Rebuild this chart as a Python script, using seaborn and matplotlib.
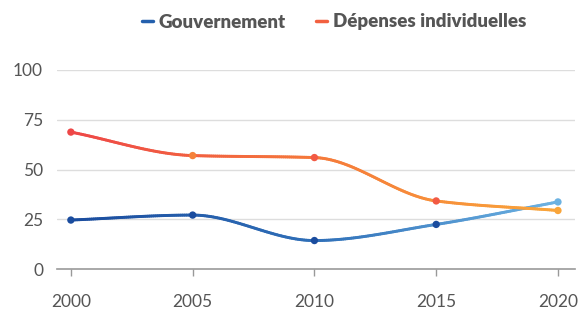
import numpy as np
import pandas as pd
import matplotlib
matplotlib.use("Agg")
import matplotlib.pyplot as plt
import seaborn as sns
from matplotlib.collections import LineCollection
from matplotlib.colors import LinearSegmentedColormap
from matplotlib.lines import Line2D

years = [2000, 2005, 2010, 2015, 2020]
gouvernement = [24.6, 27.1, 14.3, 22.4, 33.7]
depenses = [68.8, 57.0, 56.0, 34.2, 29.4]
series_names = ["Gouvernement", "Dépenses individuelles"]
y_ticks = [0, 25, 50, 75, 100]

blue_cmap = LinearSegmentedColormap.from_list("b", ["#1a4c9e", "#2f6fb8", "#6cb2e2"])
orange_cmap = LinearSegmentedColormap.from_list("o", ["#ee4747", "#f5793a", "#f9a53a"])
blue_pts = ["#1a4c9e", "#1a4c9e", "#1a4c9e", "#1a4c9e", "#6cb2e2"]
orange_pts = ["#ee4747", "#f5813a", "#f25a44", "#f25a44", "#f9a53a"]


def smooth(x, y, n=60):
    # monotone cubic (Fritsch-Carlson) for drawing the curve between points
    x = np.asarray(x, float)
    y = np.asarray(y, float)
    h = np.diff(x)
    d = np.diff(y) / h
    m = np.zeros_like(y)
    m[0], m[-1] = d[0], d[-1]
    for i in range(1, len(y) - 1):
        if d[i - 1] * d[i] <= 0:
            m[i] = 0
        else:
            w1 = 2 * h[i] + h[i - 1]
            w2 = h[i] + 2 * h[i - 1]
            m[i] = (w1 + w2) / (w1 / d[i - 1] + w2 / d[i])
    xs, ys = [], []
    for i in range(len(x) - 1):
        t = np.linspace(0, 1, n)
        h00 = 2 * t**3 - 3 * t**2 + 1
        h10 = t**3 - 2 * t**2 + t
        h01 = -2 * t**3 + 3 * t**2
        h11 = t**3 - t**2
        xs.append(x[i] + t * h[i])
        ys.append(h00 * y[i] + h10 * h[i] * m[i] + h01 * y[i + 1] + h11 * h[i] * m[i + 1])
    return np.concatenate(xs), np.concatenate(ys)


def gradient_line(ax, x, y, cmap):
    xs, ys = smooth(x, y)
    pts = np.column_stack([xs, ys]).reshape(-1, 1, 2)
    segs = np.concatenate([pts[:-1], pts[1:]], axis=1)
    lc = LineCollection(segs, cmap=cmap, linewidth=2.1, capstyle="round", zorder=3)
    lc.set_array((xs[:-1] - xs.min()) / (xs.max() - xs.min()))
    ax.add_collection(lc)


sns.set_theme(style="white")
plt.rcParams["font.family"] = ["Lato", "DejaVu Sans"]

fig = plt.figure(figsize=(5.8, 3.13), dpi=100)
ax = fig.add_axes([57 / 580, 1 - 269 / 313, 518 / 580, 199 / 313])

df = pd.DataFrame({"year": years * 2,
                   "value": gouvernement + depenses,
                   "serie": [series_names[0]] * 5 + [series_names[1]] * 5})

gradient_line(ax, years, gouvernement, blue_cmap)
gradient_line(ax, years, depenses, orange_cmap)

sns.scatterplot(data=df, x="year", y="value", hue=df.index, palette=blue_pts + orange_pts,
                s=28, edgecolor="none", legend=False, ax=ax, zorder=4)

ax.set_xlim(1999.43, 2020.7)
ax.set_ylim(0, 100)
ax.set_yticks(y_ticks)
ax.set_xticks(years)
ax.set_xlabel("")
ax.set_ylabel("")
for v in y_ticks[1:]:
    ax.axhline(v, color="#dddddd", linewidth=1, zorder=1)
for s in ["top", "right", "left"]:
    ax.spines[s].set_visible(False)
ax.spines["bottom"].set_color("#999999")
ax.spines["bottom"].set_linewidth(1.2)
ax.tick_params(axis="x", length=5, width=1, color="#999999", pad=13,
               labelsize=12.5, labelcolor="#555555", direction="out", bottom=True)
ax.tick_params(axis="y", length=0, pad=10, labelsize=12.5, labelcolor="#555555")

handles = [Line2D([], [], color="#2460ad", linewidth=2.5),
           Line2D([], [], color="#f2603f", linewidth=2.5)]
leg = fig.legend(handles, series_names, loc="center", bbox_to_anchor=(334 / 580, 1 - 22 / 313),
                 ncol=2, frameon=False, handlelength=0.6, handletextpad=0.3, columnspacing=1.6,
                 prop={"weight": "heavy", "size": 13.5})
for t in leg.get_texts():
    t.set_color("#555555")

fig.savefig("out.png", dpi=100)
